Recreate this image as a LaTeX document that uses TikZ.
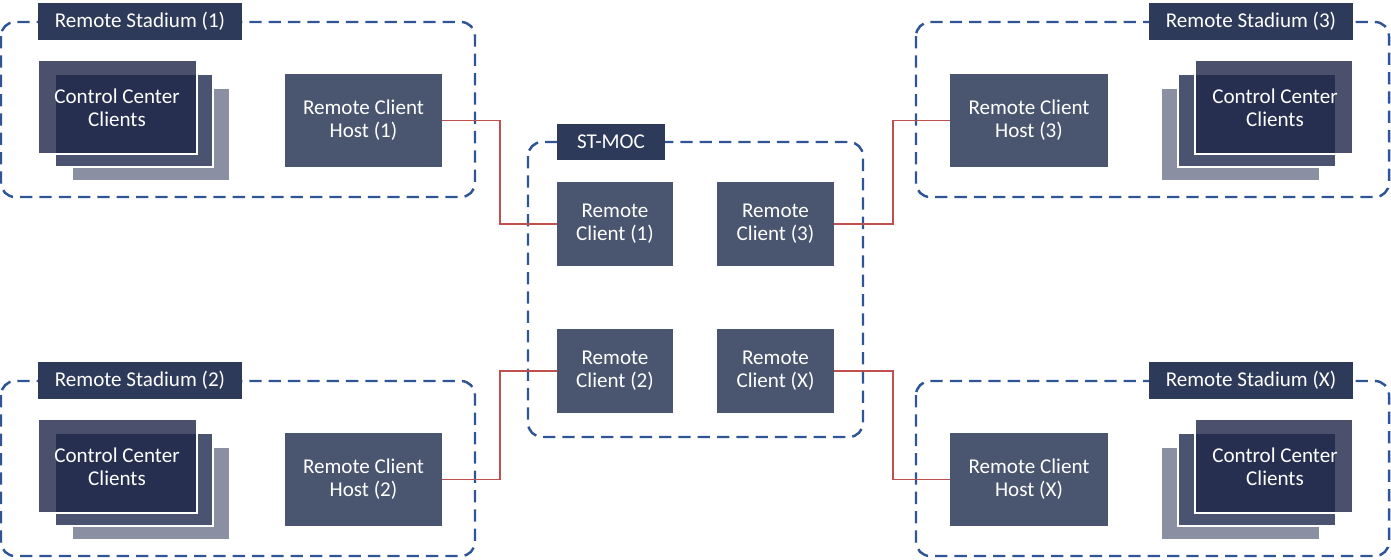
\documentclass[tikz,border=0pt]{standalone}
\usepackage{fontspec}
\setmainfont{Carlito}
\begin{document}
\begin{tikzpicture}[x=0.02cm,y=-0.02cm,
  stad/.style={draw={rgb,255:red,47;green,85;blue,151},dash pattern=on 7pt off 4pt,line width=1.4pt,rounded corners=8pt},
  title/.style={fill={rgb,255:red,46;green,58;blue,89},text=white,font=\fontsize{12}{14}\selectfont,inner sep=0},
  box/.style={fill={rgb,255:red,74;green,85;blue,112},text=white,font=\fontsize{12}{13}\selectfont,align=center,inner sep=0},
  back/.style={fill={rgb,255:red,138;green,144;blue,162},draw=white,line width=1pt},
  mid/.style={fill={rgb,255:red,74;green,84;blue,112},draw=white,line width=1pt},
  front/.style={fill={rgb,255:red,30;green,38;blue,72},fill opacity=0.8,draw=white,line width=1.5pt,draw opacity=1},
  link/.style={draw={rgb,255:red,192;green,80;blue,77},line width=0.8pt}]
\useasboundingbox (0,0) rectangle (1391,559);
% stadiums
\foreach \dy/\t/\n in {0/1/a,359/2/b}{
  \draw[stad] (1,22+\dy) rectangle (475,197+\dy);
  \node[title,minimum width=4.08cm,minimum height=0.74cm] (st\n) at (140,21.5+\dy) {Remote Stadium (\t)};
  \draw[back] (72,88+\dy) rectangle (230,181+\dy);
  \draw[mid] (55,74+\dy) rectangle (213,167+\dy);
  \draw[front] (38,60+\dy) rectangle (197,154+\dy);
  \node[box,fill=none] (cc\n) at (117,108+\dy) {Control Center\\Clients};
  \node[box,minimum width=3.14cm,minimum height=1.86cm] (h\n) at (363.5,120.5+\dy) {Remote Client\\Host (\t)};
}
\foreach \dy/\t/\n in {0/3/c,359/X/d}{
  \draw[stad] (916,22+\dy) rectangle (1389,197+\dy);
  \node[title,minimum width=4.08cm,minimum height=0.74cm] (st\n) at (1251,21.5+\dy) {Remote Stadium (\t)};
  \draw[back] (1161,88+\dy) rectangle (1320,181+\dy);
  \draw[mid] (1178,74+\dy) rectangle (1336,167+\dy);
  \draw[front] (1195,60+\dy) rectangle (1353,154+\dy);
  \node[box,fill=none] (cc\n) at (1275,108+\dy) {Control Center\\Clients};
  \node[box,minimum width=3.16cm,minimum height=1.86cm] (h\n) at (1029,120.5+\dy) {Remote Client\\Host (\t)};
}
% ST-MOC
\draw[stad] (528,142) rectangle (863,437);
\node[title,minimum width=2.16cm,minimum height=0.72cm] (moc) at (611,142) {ST-MOC};
\node[box,minimum width=2.32cm,minimum height=1.68cm] (c1) at (615,224) {Remote\\Client (1)};
\node[box,minimum width=2.34cm,minimum height=1.68cm] (c3) at (775.5,224) {Remote\\Client (3)};
\node[box,minimum width=2.32cm,minimum height=1.68cm] (c2) at (615,371) {Remote\\Client (2)};
\node[box,minimum width=2.34cm,minimum height=1.68cm] (cx) at (775.5,371) {Remote\\Client (X)};
% links
\draw[link] (ha.east) -| (500,172) |- (c1.west);
\draw[link] (hb.east) -| (500,420) |- (c2.west);
\draw[link] (c3.east) -| (893,172) |- (hc.west);
\draw[link] (cx.east) -| (893,420) |- (hd.west);
\end{tikzpicture}
\end{document}
